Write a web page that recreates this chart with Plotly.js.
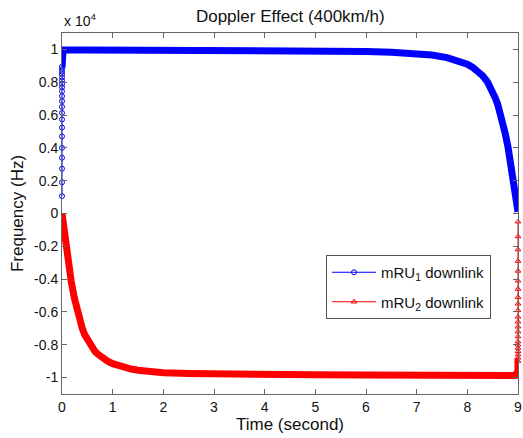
<!DOCTYPE html>
<html>
<head>
<meta charset="utf-8">
<script src="https://cdn.plot.ly/plotly-3.0.1.min.js"></script>
<style>html,body{margin:0;padding:0;background:#fff;}#chart{width:523px;height:438px;}</style>
</head>
<body>
<div id="chart"></div>
<script>
// mRU1 downlink: sparse start samples (circles at t = 0), Hz
const mru1StartTime = [0,0,0,0,0,0,0,0,0,0,0,0,0,0,0,0,0,0,0,0,0];
const mru1StartHz = [1060,1900,2730,3400,4000,4700,5240,5730,6130,6500,6850,7150,7450,7700,7900,8100,8300,8500,8650,8800,8950];
// mRU1 downlink: dense main curve, Hz
const mru1Time = [0,0,0.02,0.5,1,2,3,4,5,5.5,6,6.5,7,7.3,7.6,7.8,8.0,8.1,8.2,8.3,8.4,8.45,8.5,8.55,8.6,8.65,8.7,8.75,8.8,8.85,8.9,8.95,9.0];
const mru1Hz = [8900,9900,9960,9970,9970,9960,9950,9940,9920,9900,9880,9830,9750,9660,9500,9350,9100,8920,8700,8400,8000,7750,7420,7050,6650,6150,5550,4850,4100,3200,2200,1150,100];
// mRU2 downlink: dense main curve, Hz
const mru2Time = [0,0.03,0.07,0.12,0.18,0.24,0.3,0.35,0.4,0.45,0.5,0.55,0.6,0.65,0.7,0.8,0.9,1.0,1.1,1.2,1.35,1.5,1.75,2.0,2.5,3,4,5,6,7,8,8.95,9,9];
const mru2Hz = [0,-800,-1700,-2800,-4100,-5100,-5900,-6500,-7000,-7400,-7700,-7980,-8200,-8400,-8550,-8800,-9000,-9150,-9270,-9370,-9470,-9550,-9650,-9700,-9750,-9780,-9810,-9830,-9840,-9850,-9860,-9870,-9600,-8800];
// mRU2 downlink: sparse end samples (triangles at t = 9), Hz
const mru2EndTime = [9,9,9,9,9,9,9,9,9,9,9,9,9,9,9,9,9,9,9,9,9,9];
const mru2EndHz = [-500,-1400,-2200,-2900,-3500,-4100,-4600,-5100,-5500,-5900,-6300,-6600,-6900,-7200,-7500,-7800,-8000,-8200,-8400,-8600,-8800,-9000];
// axis ticks
const xTicks = [0,1,2,3,4,5,6,7,8,9];
const yTickVals = [-10000,-8000,-6000,-4000,-2000,0,2000,4000,6000,8000,10000];
const yTickText = ['-1','-0.8','-0.6','-0.4','-0.2','0','0.2','0.4','0.6','0.8','1'];

const blue = '#0000ff';
const red = '#ff0000';
const font = 'Liberation Sans, Arial, Helvetica, sans-serif';

const traces = [
  {x: mru1StartTime, y: mru1StartHz, type: 'scatter', mode: 'lines+markers',
   name: 'mRU<sub>1</sub> downlink', legendgroup: 'a', line: {color: blue, width: 1},
   marker: {symbol: 'circle-open', size: 5, color: blue, line: {width: 1, color: blue}}, cliponaxis: false},
  {x: mru2EndTime, y: mru2EndHz, type: 'scatter', mode: 'lines+markers',
   name: 'mRU<sub>2</sub> downlink', legendgroup: 'b', line: {color: red, width: 1},
   marker: {symbol: 'triangle-up-open', size: 5, color: red, line: {width: 1, color: red}}, cliponaxis: false},
  {x: mru1Time, y: mru1Hz, type: 'scatter', mode: 'lines', showlegend: false,
   line: {color: blue, width: 7}, hoverinfo: 'skip'},
  {x: mru2Time, y: mru2Hz, type: 'scatter', mode: 'lines', showlegend: false,
   line: {color: red, width: 7}, hoverinfo: 'skip'}
];

const axisCommon = {
  showline: true, linecolor: '#666', linewidth: 1, mirror: 'ticks',
  ticks: 'inside', ticklen: 5, tickcolor: '#666', tickwidth: 1,
  showgrid: false, zeroline: false,
  tickfont: {family: font, size: 14, color: '#111'}
};

const layout = {
  width: 523, height: 438,
  margin: {l: 62, r: 5, t: 33, b: 44},
  paper_bgcolor: '#fff', plot_bgcolor: '#fff',
  font: {family: font, color: '#111'},
  title: {text: 'Doppler Effect (400km/h)', font: {family: font, size: 17, color: '#111'},
          x: 0.555, xanchor: 'center', y: 0.963, yanchor: 'middle'},
  xaxis: Object.assign({}, axisCommon, {
    range: [0, 9], tickvals: xTicks, ticktext: xTicks.map(String),
    title: {text: 'Time (second)', font: {family: font, size: 17, color: '#111'}, standoff: 4}
  }),
  yaxis: Object.assign({}, axisCommon, {
    range: [-11000, 11000], tickvals: yTickVals, ticktext: yTickText,
    title: {text: 'Frequency (Hz)', font: {family: font, size: 17, color: '#111'}, standoff: 6}
  }),
  legend: {x: 0.579, y: 0.385, xanchor: 'left', yanchor: 'top',
           bgcolor: '#fff', bordercolor: '#555', borderwidth: 1,
           font: {family: font, size: 15, color: '#111'}, traceorder: 'grouped',
           tracegroupgap: 7, itemwidth: 44},
  annotations: [{xref: 'paper', yref: 'paper', x: 0, y: 1, xanchor: 'left', yanchor: 'bottom',
                 yshift: 2, showarrow: false, text: 'x 10<sup>4</sup>',
                 font: {family: font, size: 14, color: '#111'}}]
};

Plotly.newPlot('chart', traces, layout, {displayModeBar: false, staticPlot: true});
</script>
</body>
</html>
